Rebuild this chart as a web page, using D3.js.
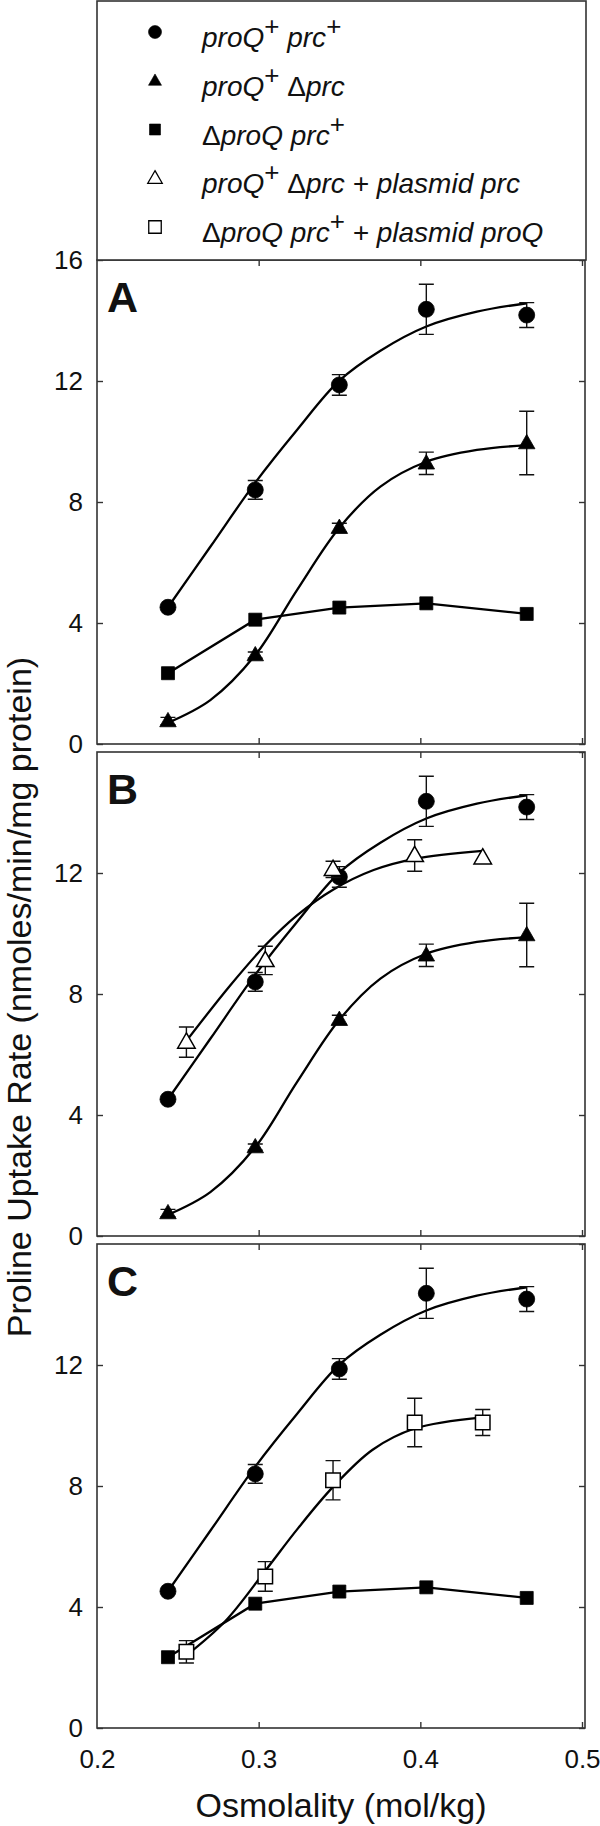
<!DOCTYPE html>
<html>
<head>
<meta charset="utf-8">
<script src="https://cdn.jsdelivr.net/npm/d3@7"></script>
<style>
  html, body { margin: 0; padding: 0; background: #fff; }
  svg { display: block; }
  text { font-family: "Liberation Sans", Arial, Helvetica, sans-serif; }
</style>
</head>
<body>
<svg id="chart" width="600" height="1826"></svg>
<script>
// ---------- data ----------
const xTicks = [0.2, 0.3, 0.4, 0.5];
const xTickLabels = ["0.2", "0.3", "0.4", "0.5"];
const yTicks = [0, 4, 8, 12, 16];
const panelLetters = ["A", "B", "C"];

const osmStrain = [0.2439, 0.2979, 0.3499, 0.4037, 0.4658];
const wtRate = [4.52, 8.40, 11.87, 14.37, 14.18];
const wtErr = [0, 0.31, 0.34, 0.83, 0.41];
const prcRate = [0.76, 2.94, 7.15, 9.28, 9.95];
const prcErr = [0.12, 0.10, 0.15, 0.37, 1.05];
const proqRate = [2.34, 4.11, 4.51, 4.65, 4.30];
const proqErr = [0, 0, 0, 0, 0];

const osmPlasmid = [0.2553, 0.3041, 0.3460, 0.3965, 0.4386];
const prcPlasmidRate = [6.41, 9.11, 12.12, 12.58, 12.50];
const prcPlasmidErr = [0.50, 0.47, 0.27, 0.52, 0];
const proqPlasmidRate = [2.52, 5.01, 8.19, 10.10, 10.10];
const proqPlasmidErr = [0.37, 0.49, 0.65, 0.80, 0.43];

// fitted curves
const fitOsmStrain = [0.2439, 0.2701, 0.2979, 0.3237, 0.3499, 0.3753, 0.4037, 0.4350, 0.4658];
const wtFit = [4.52, 6.52, 8.64, 10.38, 12.01, 13.00, 13.80, 14.29, 14.57];
const prcFit = [0.70, 1.45, 2.94, 5.09, 7.15, 8.51, 9.33, 9.72, 9.88];
const fitOsmPrcPlasmid = [0.2553, 0.2825, 0.3041, 0.3237, 0.3460, 0.3711, 0.3965, 0.4386];
const prcPlasmidFit = [6.45, 8.29, 9.61, 10.60, 11.45, 12.10, 12.47, 12.73];
const fitOsmProqPlasmid = [0.2553, 0.2793, 0.3041, 0.3243, 0.3460, 0.3705, 0.3965, 0.4386];
const proqPlasmidFit = [2.40, 3.53, 5.20, 6.60, 7.97, 9.20, 9.90, 10.27];

// ---------- series definitions ----------
const zip = (xs, ys, es) => xs.map((x, i) => ({ x, y: ys[i], e: es ? es[i] : 0 }));
const S = {
  wt:   { pts: zip(osmStrain, wtRate, wtErr), fit: zip(fitOsmStrain, wtFit), curve: true, shape: "circle", fill: "#000" },
  prc:  { pts: zip(osmStrain, prcRate, prcErr), fit: zip(fitOsmStrain, prcFit), curve: true, shape: "triangle", fill: "#000" },
  proq: { pts: zip(osmStrain, proqRate, proqErr), fit: zip(osmStrain, proqRate), curve: false, shape: "square", fill: "#000" },
  prcP: { pts: zip(osmPlasmid, prcPlasmidRate, prcPlasmidErr), fit: zip(fitOsmPrcPlasmid, prcPlasmidFit), curve: true, shape: "triangle", fill: "#fff" },
  proqP:{ pts: zip(osmPlasmid, proqPlasmidRate, proqPlasmidErr), fit: zip(fitOsmProqPlasmid, proqPlasmidFit), curve: true, shape: "square", fill: "#fff" }
};
const panelSeries = [["wt", "prc", "proq"], ["wt", "prc", "prcP"], ["wt", "proq", "proqP"]];

// ---------- layout ----------
const svg = d3.select("#chart");
svg.append("rect").attr("width", 600).attr("height", 1826).attr("fill", "#fff");
const frameColor = "#333";
const left = 97, right = 585, xEnd = 582;
const panelTops = [260, 752, 1244];
const panelH = 484;
const x = d3.scaleLinear().domain([0.2, 0.5]).range([left, xEnd]);

function markerPath(shape, big, open) {
  if (shape === "circle") {
    const r = big ? 8 : 6.5;
    return `M${r},0A${r},${r},0,1,1,${-r},0A${r},${r},0,1,1,${r},0Z`;
  }
  if (shape === "triangle") {
    const s = big ? (open ? 17.5 : 16.5) : (open ? 14.5 : 13);
    const h = s * 0.87;
    return `M0,${-h*0.6}L${s/2},${h*0.4}L${-s/2},${h*0.4}Z`;
  }
  const a = big ? (open ? 14.5 : 13) : (open ? 12.5 : 11);
  return `M${-a/2},${-a/2}H${a/2}V${a/2}H${-a/2}Z`;
}

panelTops.forEach((top, pi) => {
  const bottom = top + panelH;
  const y = d3.scaleLinear().domain([0, 16]).range([bottom, top]);
  const g = svg.append("g");

  // series lines
  panelSeries[pi].forEach(key => {
    const s = S[key];
    const line = d3.line().x(d => x(d.x)).y(d => y(d.y))
      .curve(s.curve ? d3.curveCatmullRom.alpha(0.5) : d3.curveLinear);
    g.append("path").attr("d", line(s.fit)).attr("fill", "none")
      .attr("stroke", "#000").attr("stroke-width", 2.3);
  });
  // error bars + markers
  panelSeries[pi].forEach(key => {
    const s = S[key];
    s.pts.filter(d => d.e > 0).forEach(d => {
      const cx = x(d.x), y1 = y(d.y + d.e), y2 = y(d.y - d.e);
      g.append("path")
        .attr("d", `M${cx},${y1}V${y2}M${cx-7.5},${y1}H${cx+7.5}M${cx-7.5},${y2}H${cx+7.5}`)
        .attr("stroke", "#111").attr("stroke-width", 1.4).attr("fill", "none");
    });
    const open = s.fill === "#fff";
    g.selectAll(null).data(s.pts).join("path")
      .attr("transform", d => `translate(${x(d.x)},${y(d.y)})`)
      .attr("d", markerPath(s.shape, true, open))
      .attr("fill", s.fill)
      .attr("stroke", "#000").attr("stroke-width", open ? 1.5 : 0.8);
  });

  // frame
  g.append("rect").attr("x", left).attr("y", top).attr("width", right - left).attr("height", panelH)
    .attr("fill", "none").attr("stroke", frameColor).attr("stroke-width", 1.6);

  // axes with inward ticks
  const yt = pi === 0 ? yTicks : yTicks.filter(v => v < 16);
  g.append("g").attr("transform", `translate(${left},0)`)
    .call(d3.axisLeft(y).tickValues(yt).tickSize(-6).tickPadding(14).tickFormat(d3.format("d")));
  g.append("g").attr("transform", `translate(${right},0)`)
    .call(d3.axisRight(y).tickValues(yTicks).tickSize(-6).tickFormat(""));
  g.append("g").attr("transform", `translate(0,${top})`)
    .call(d3.axisTop(x).tickValues(xTicks.slice(1)).tickSize(-6).tickFormat(""));
  const bx = g.append("g").attr("transform", `translate(0,${bottom})`)
    .call(d3.axisBottom(x).tickValues(pi === 2 ? xTicks : xTicks.slice(1)).tickSize(-6).tickPadding(22)
      .tickFormat(pi === 2 ? (d => xTickLabels[xTicks.indexOf(d)]) : ""));
  g.selectAll(".domain").remove();
  g.selectAll(".tick line").attr("stroke", frameColor).attr("stroke-width", 1.4);
  g.selectAll(".tick text").attr("font-size", 26).attr("fill", "#111")
    .attr("font-family", "Liberation Sans, Arial, sans-serif");
  if (pi === 2) {
    bx.selectAll(".tick").filter(d => d === 0.2).select("line").remove();
  }

  // panel letter
  g.append("text").attr("x", 107).attr("y", top + 52).text(panelLetters[pi])
    .attr("font-size", 43).attr("font-weight", "bold").attr("fill", "#111");
});

// axis titles
svg.append("text").attr("transform", "translate(31,997) rotate(-90)")
  .attr("text-anchor", "middle").attr("font-size", 34).attr("fill", "#111")
  .text("Proline Uptake Rate (nmoles/min/mg protein)");
svg.append("text").attr("x", 341).attr("y", 1817).attr("text-anchor", "middle")
  .attr("font-size", 34).attr("fill", "#111").text("Osmolality (mol/kg)");

// legend
svg.append("rect").attr("x", left).attr("y", 1).attr("width", 489).attr("height", 259)
  .attr("fill", "#fff").attr("stroke", frameColor).attr("stroke-width", 1.6);
const legendKeys = ["wt", "prc", "proq", "prcP", "proqP"];
// label pieces: [text, kind] kind: n = italic, s = superscript, d = upright delta
const legendLabels = [
  [["proQ", "n"], ["+", "s"], [" prc", "n"], ["+", "s"]],
  [["proQ", "n"], ["+", "s"], [" ", "n"], ["\u0394", "d"], ["prc", "n"]],
  [["\u0394", "d"], ["proQ prc", "n"], ["+", "s"]],
  [["proQ", "n"], ["+", "s"], [" ", "n"], ["\u0394", "d"], ["prc + plasmid prc", "n"]],
  [["\u0394", "d"], ["proQ prc", "n"], ["+", "s"], [" + plasmid proQ", "n"]]
];
legendKeys.forEach((key, i) => {
  const base = 47 + i * 48.75;
  const s = S[key];
  const open = s.fill === "#fff";
  svg.append("path").attr("transform", `translate(155,${base - 15})`)
    .attr("d", markerPath(s.shape, false, open))
    .attr("fill", s.fill).attr("stroke", "#000").attr("stroke-width", open ? 1.3 : 0.6);
  const t = svg.append("text").attr("x", 202).attr("y", base).attr("font-size", 28)
    .attr("font-style", "italic").attr("fill", "#111");
  let prevSup = false;
  legendLabels[i].forEach(([txt, kind]) => {
    const sp = t.append("tspan").text(txt);
    if (kind === "s") { sp.attr("dy", -12).attr("font-size", 26).attr("font-style", "normal"); prevSup = true; }
    else {
      if (prevSup) sp.attr("dy", 12);
      prevSup = false;
      if (kind === "d") sp.attr("font-style", "normal");
    }
  });
});
</script>
</body>
</html>
